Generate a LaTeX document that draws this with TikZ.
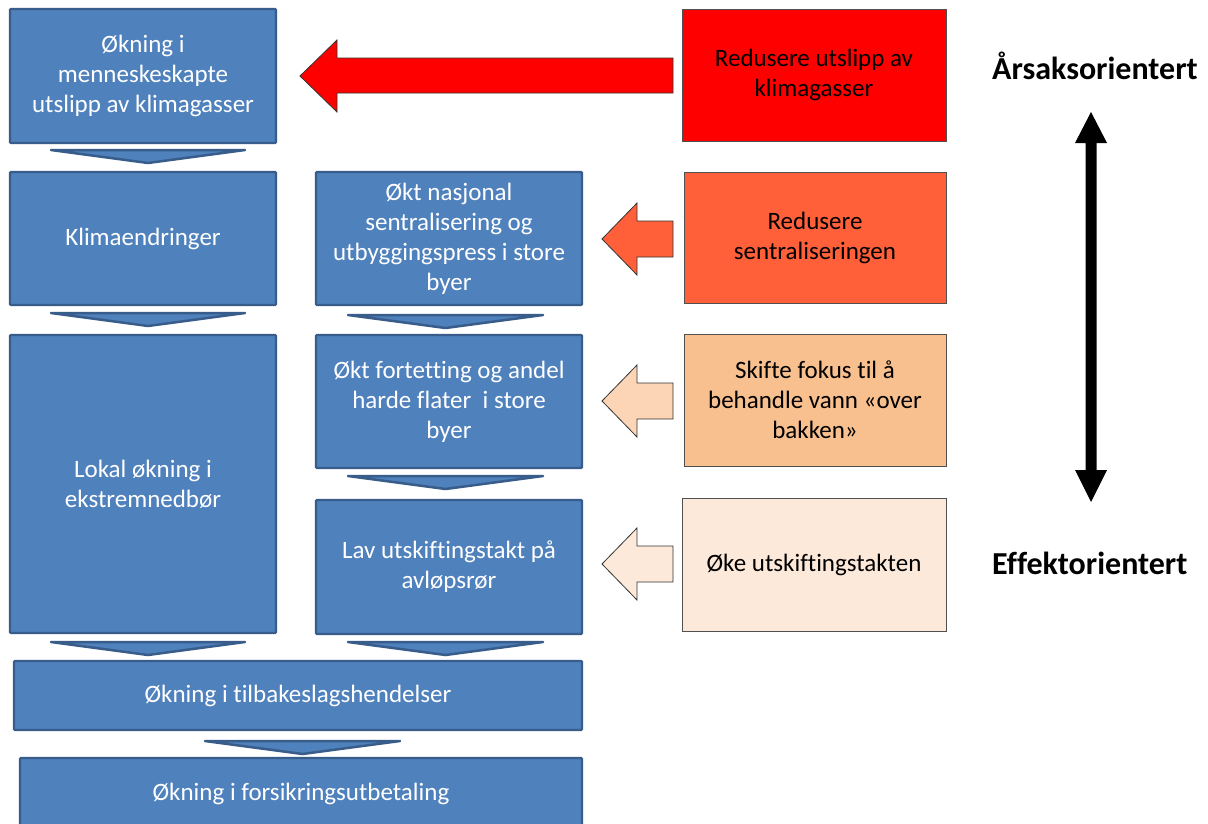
\documentclass[tikz,border=0pt]{standalone}
\usepackage{fontspec}
\setmainfont{Carlito}[Ligatures=NoCommon]
\usetikzlibrary{calc}
\definecolor{bluefill}{HTML}{4F81BD}
\definecolor{blueline}{HTML}{385D8A}
\definecolor{redfill}{HTML}{FF0000}
\definecolor{orangefill}{HTML}{FF6039}
\definecolor{peachfill}{HTML}{F9C08F}
\definecolor{peacharrow}{HTML}{FBD5B5}
\definecolor{lightfill}{HTML}{FDE9D9}
\definecolor{boxline}{HTML}{505050}
\tikzset{
  bluebox/.style={draw=blueline, line width=2.2pt, fill=bluefill, text=white, align=center,
    font=\fontsize{25}{30}\selectfont, inner sep=0pt, rounded corners=1pt},
  rightbox/.style={draw=boxline, line width=1pt, align=center, inner sep=0pt,
    font=\fontsize{25}{30}\selectfont, text=black},
  chev/.style={draw=blueline, line width=2.5pt, fill=bluefill, line join=round, line cap=round},
  blockarrow/.style={draw=black!80, line width=0.8pt, line join=miter},
  sidelabel/.style={font=\fontsize{32}{36}\selectfont\bfseries, anchor=west, inner sep=0pt}
}
\begin{document}
\begin{tikzpicture}[x=1pt,y=-1pt]
\clip (0,0) rectangle (1208,823);
\fill[white] (0,0) rectangle (1208,823);

% blue boxes
\node[bluebox, minimum width=266pt, minimum height=134pt] (a) at (143,76) {Økning i\\menneskeskapte\\utslipp av klimagasser};
\node[bluebox, minimum width=266pt, minimum height=133pt] (b) at (143,238.5) {Klimaendringer};
\node[bluebox, minimum width=266pt, minimum height=133pt] (c) at (449,238.5) {Økt nasjonal\\sentralisering og\\utbyggingspress i store\\byer};
\node[bluebox, minimum width=266pt, minimum height=298pt] (d) at (143,484) {Lokal økning i\\ekstremnedbør};
\node[bluebox, minimum width=266pt, minimum height=133pt] (e) at (449,401.5) {Økt fortetting og andel\\harde flater\ \ i store\\byer};
\node[bluebox, minimum width=266pt, minimum height=134pt] (f) at (449,567) {Lav utskiftingstakt på\\avløpsrør};
\node[bluebox, minimum width=568pt, minimum height=69pt] (g) at (298,695.5) {Økning i tilbakeslagshendelser};
\node[bluebox, minimum width=562pt, minimum height=72pt] (h) at (301,794) {Økning i forsikringsutbetaling};

% chevrons
\draw[chev] (51,150) -- (245,150) -- (148,163) -- cycle;
\draw[chev] (51,313) -- (245,313) -- (148,326) -- cycle;
\draw[chev] (348,315) -- (543,315) -- (445.5,328) -- cycle;
\draw[chev] (348,476) -- (543,476) -- (445.5,489) -- cycle;
\draw[chev] (51,642) -- (245,642) -- (148,655) -- cycle;
\draw[chev] (348,642) -- (543,642) -- (445.5,655) -- cycle;
\draw[chev] (205,741) -- (400,741) -- (302.5,754) -- cycle;

% right boxes
\node[rightbox, fill=redfill, minimum width=264pt, minimum height=132pt] (r1) at (814,75) {Redusere utslipp av\\klimagasser};
\node[rightbox, fill=orangefill, minimum width=262pt, minimum height=131pt] (r2) at (815,237.5) {Redusere\\sentraliseringen};
\node[rightbox, fill=peachfill, minimum width=262pt, minimum height=132pt] (r3) at (815,400) {Skifte fokus til å\\behandle vann «over\\bakken»};
\node[rightbox, fill=lightfill, minimum width=264pt, minimum height=133pt] (r4) at (814,564.5) {Øke utskiftingstakten};

% block arrows
\draw[blockarrow, fill=redfill] (300,76) -- (337,40) -- (337,58) -- (673,58) -- (673,93) -- (337,93) -- (337,112) -- cycle;
\draw[blockarrow, fill=orangefill] (602,239) -- (637,203) -- (637,221) -- (673,221) -- (673,257) -- (637,257) -- (637,275) -- cycle;
\draw[blockarrow, fill=peacharrow] (602,401) -- (637,365) -- (637,383) -- (673,383) -- (673,419) -- (637,419) -- (637,437) -- cycle;
\draw[blockarrow, fill=lightfill] (602,564) -- (637,528) -- (637,546) -- (673,546) -- (673,582) -- (637,582) -- (637,600) -- cycle;

% double arrow
\fill[black] (1091,112) -- (1107,143) -- (1096.5,143) -- (1096.5,470) -- (1107,470) -- (1091,502) -- (1075,470) -- (1085.5,470) -- (1085.5,143) -- (1075,143) -- cycle;

% side labels
\node[sidelabel] (top) at (992,66) {Årsaksorientert};
\node[sidelabel] (bot) at (992,563) {Effektorientert};
\end{tikzpicture}
\end{document}
